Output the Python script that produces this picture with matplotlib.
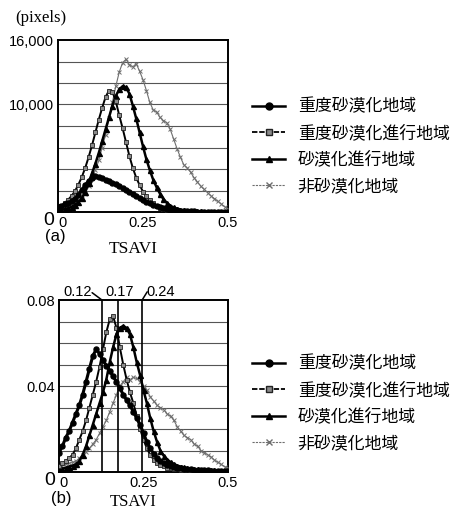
import matplotlib
matplotlib.use('Agg')
import matplotlib.pyplot as plt
from matplotlib.lines import Line2D

# ---------------- data ----------------
tsavi = [0.00, 0.01, 0.02, 0.03, 0.04, 0.05, 0.06, 0.07, 0.08, 0.09,
         0.10, 0.11, 0.12, 0.13, 0.14, 0.15, 0.16, 0.17, 0.18, 0.19,
         0.20, 0.21, 0.22, 0.23, 0.24, 0.25, 0.26, 0.27, 0.28, 0.29,
         0.30, 0.31, 0.32, 0.33, 0.34, 0.35, 0.36, 0.37, 0.38, 0.39,
         0.40, 0.41, 0.42, 0.43, 0.44, 0.45, 0.46, 0.47, 0.48, 0.49, 0.50]

labels = ['重度砂漠化地域', '重度砂漠化進行地域', '砂漠化進行地域', '非砂漠化地域']

# (a) pixel counts
a_severe = [450, 550, 700, 850, 1000, 1250, 1600, 2050, 2500, 2900,
            3200, 3330, 3300, 3170, 3020, 2870, 2720, 2560, 2400, 2220,
            2040, 1860, 1670, 1480, 1300, 1120, 950, 800, 660, 540,
            430, 340, 270, 220, 180, 150, 120, 95, 75, 60,
            50, 40, 35, 30, 25, 20, 18, 15, 12, 10, 8]
a_severe_prog = [450, 600, 850, 1150, 1500, 1950, 2550, 3250, 4100, 5100,
                 6200, 7400, 8600, 9700, 10700, 11300, 11200, 10300, 9000, 7800,
                 6500, 5200, 4100, 3200, 2500, 1900, 1450, 1100, 800, 560,
                 400, 290, 210, 160, 120, 90, 70, 55, 45, 38,
                 32, 28, 24, 20, 17, 14, 12, 10, 8, 6, 5]
a_prog = [150, 200, 260, 350, 480, 650, 900, 1300, 1900, 2700,
          3600, 4500, 5500, 6600, 7700, 8800, 9900, 10800, 11400, 11700,
          11600, 11000, 9900, 8700, 7400, 6100, 4900, 3900, 3000, 2300,
          1700, 1200, 850, 600, 420, 300, 220, 170, 130, 100,
          80, 65, 55, 45, 38, 32, 27, 22, 18, 15, 12]
a_non = [250, 350, 450, 550, 650, 750, 950, 1250, 1700, 2400,
         3200, 3900, 4800, 6000, 7200, 8700, 10200, 11700, 13000, 13900,
         14200, 13700, 13500, 13800, 13100, 12300, 11300, 10200, 9500, 9300,
         8800, 8500, 8300, 7700, 6800, 5900, 5100, 4400, 4100, 3700,
         3200, 2800, 2400, 2100, 1800, 1500, 1250, 1000, 750, 500, 300]

# (b) relative frequency
b_severe = [0.009, 0.012, 0.016, 0.019, 0.023, 0.027, 0.031, 0.036, 0.042, 0.048,
            0.054, 0.057, 0.055, 0.052, 0.0495, 0.047, 0.0445, 0.042, 0.039, 0.036,
            0.0335, 0.031, 0.028, 0.025, 0.022, 0.018, 0.014, 0.011, 0.0085, 0.0065,
            0.005, 0.004, 0.0033, 0.0028, 0.0024, 0.002, 0.0018, 0.0016, 0.0014, 0.0012,
            0.0011, 0.001, 0.0009, 0.0008, 0.0007, 0.0006, 0.0006, 0.0005, 0.0005, 0.0004, 0.0004]
b_severe_prog = [0.003, 0.004, 0.005, 0.0065, 0.008, 0.011, 0.015, 0.019, 0.024, 0.030,
                 0.036, 0.042, 0.049, 0.057, 0.065, 0.071, 0.0725, 0.067, 0.058, 0.050,
                 0.043, 0.037, 0.032, 0.026, 0.020, 0.015, 0.011, 0.008, 0.0058, 0.0043,
                 0.0033, 0.0026, 0.002, 0.0017, 0.0014, 0.0012, 0.001, 0.0009, 0.0008, 0.0007,
                 0.0006, 0.0006, 0.0005, 0.0005, 0.0004, 0.0004, 0.0003, 0.0003, 0.0003, 0.0003, 0.0002]
b_prog = [0.001, 0.0015, 0.002, 0.0025, 0.003, 0.0035, 0.005, 0.008, 0.012, 0.017,
          0.022, 0.027, 0.032, 0.037, 0.043, 0.051, 0.058, 0.064, 0.067, 0.068,
          0.067, 0.064, 0.058, 0.051, 0.045, 0.038, 0.032, 0.025, 0.019, 0.014,
          0.010, 0.0075, 0.0058, 0.0046, 0.0037, 0.003, 0.0025, 0.0021, 0.0018, 0.0015,
          0.0013, 0.0012, 0.0011, 0.001, 0.0009, 0.0008, 0.0007, 0.0006, 0.0005, 0.0005, 0.0004]
b_non = [0.003, 0.003, 0.0035, 0.004, 0.0045, 0.005, 0.0065, 0.008, 0.0095, 0.011,
         0.013, 0.015, 0.018, 0.021, 0.024, 0.028, 0.032, 0.036, 0.040, 0.042,
         0.044, 0.043, 0.044, 0.0435, 0.042, 0.040, 0.038, 0.035, 0.033, 0.031,
         0.030, 0.029, 0.027, 0.026, 0.024, 0.021, 0.019, 0.017, 0.016, 0.015,
         0.013, 0.012, 0.010, 0.009, 0.008, 0.007, 0.0055, 0.0045, 0.0035, 0.0025, 0.002]

thresholds = [0.127, 0.176, 0.246]
threshold_labels = ['0.12', '0.17', '0.24']

a_yticks = [0, 10000, 16000]
a_yticklabels = ['0', '10,000', '16,000']
b_yticks = [0, 0.04, 0.08]
b_yticklabels = ['0', '0.04', '0.08']
xticks = [0, 0.25, 0.5]
xticklabels = ['0', '0.25', '0.5']

# ---------------- styling ----------------
cjk = ['Noto Sans CJK JP', 'DejaVu Sans']
sans = ['Liberation Sans', 'DejaVu Sans']
serif = ['Liberation Serif', 'DejaVu Serif']
TICK_FS = 10.5

styles = [
    dict(color='black', lw=2.2, marker='o', ms=3.6, mfc='black', mec='black', zorder=5),
    dict(color='black', lw=1.4, marker='s', ms=3.2, mfc='#8a8a8a', mec='#222222', mew=0.6, zorder=4),
    dict(color='black', lw=1.8, marker='^', ms=3.6, mfc='black', mec='black', zorder=4),
    dict(color='#6e6e6e', lw=0.8, marker='x', ms=3.4, mew=0.7, zorder=3),
]
legend_styles = [
    dict(color='black', lw=1.8, marker='o', ms=5, mfc='black', mec='black'),
    dict(color='black', lw=1.3, marker='s', ms=4.5, mfc='#8a8a8a', mec='#222222', ls=(0, (3, 1))),
    dict(color='black', lw=1.8, marker='^', ms=5, mfc='black', mec='black'),
    dict(color='#6e6e6e', lw=0.8, marker='x', ms=5, ls=(0, (2, 1))),
]

fig = plt.figure(figsize=(4.53, 5.12), dpi=100)
ax_a = fig.add_axes([58 / 453, 1 - 212 / 512, 170 / 453, 172 / 512])
ax_b = fig.add_axes([59 / 453, 1 - 472 / 512, 169 / 453, 172 / 512])


def style_axes(ax, ymax, ystep, yticks, yticklabels):
    ax.set_xlim(0, 0.5)
    ax.set_ylim(0, ymax)
    for gy in [ystep * k for k in range(1, int(round(ymax / ystep)))]:
        ax.axhline(gy, color='#555555', lw=0.8, zorder=1)
    ax.set_xticks(xticks)
    ax.set_xticklabels(xticklabels, family=sans, fontsize=TICK_FS)
    ax.set_yticks(yticks)
    ax.set_yticklabels(yticklabels, family=sans, fontsize=TICK_FS)
    ax.tick_params(length=0, pad=3)
    for s in ax.spines.values():
        s.set_linewidth(1.4)
        s.set_color('black')
    yl = ax.get_yticklabels()[0]
    yl.set_fontsize(14)
    yl.set_va('top')
    xl = ax.get_xticklabels()
    xl[0].set_ha('left')


style_axes(ax_a, 16000, 2000, a_yticks, a_yticklabels)
style_axes(ax_b, 0.08, 0.01, b_yticks, b_yticklabels)

a_series = [a_severe, a_severe_prog, a_prog, a_non]
b_series = [b_severe, b_severe_prog, b_prog, b_non]
for i in [3, 2, 1, 0]:
    ax_a.plot(tsavi, a_series[i], **styles[i])
    ax_b.plot(tsavi, b_series[i], **styles[i])

for t in thresholds:
    ax_b.axvline(t, color='black', lw=1.2, zorder=6)

# threshold labels above panel (b)
label_y = 0.0838
ax_b.text(0.056, label_y, threshold_labels[0], ha='center', va='center',
          family=sans, fontsize=TICK_FS, clip_on=False)
ax_b.text(0.18, label_y, threshold_labels[1], ha='center', va='center',
          family=sans, fontsize=TICK_FS, clip_on=False)
ax_b.text(0.302, label_y, threshold_labels[2], ha='center', va='center',
          family=sans, fontsize=TICK_FS, clip_on=False)
# short leader strokes from the labels to the threshold lines
ax_b.annotate('', xy=(thresholds[0], 0.080), xytext=(0.098, 0.0834), annotation_clip=False,
              arrowprops=dict(arrowstyle='-', lw=1.1, color='black', shrinkA=0, shrinkB=0))
ax_b.annotate('', xy=(thresholds[2], 0.080), xytext=(0.261, 0.0838), annotation_clip=False,
              arrowprops=dict(arrowstyle='-', lw=1.1, color='black', shrinkA=0, shrinkB=0))

# axis captions
fig.text(15 / 453, 1 - 18 / 512, '(pixels)', family=serif, fontsize=12, va='center', ha='left')
fig.text(55 / 453, 1 - 237 / 512, '(a)', family=sans, fontsize=12, va='center', ha='center')
fig.text(133 / 453, 1 - 249 / 512, 'TSAVI', family=serif, fontsize=12.5, va='center', ha='center')
fig.text(61 / 453, 1 - 499 / 512, '(b)', family=sans, fontsize=12, va='center', ha='center')
fig.text(133 / 453, 1 - 502 / 512, 'TSAVI', family=serif, fontsize=12, va='center', ha='center')

handles = [Line2D([], [], **s) for s in legend_styles]
for anchor_y in [1 - 97.5 / 512, 1 - 354.5 / 512]:
    fig.legend(handles, labels, loc='upper left', bbox_to_anchor=(252 / 453, anchor_y),
               frameon=False, prop={'family': cjk, 'size': 12.2},
               handlelength=1.95, handletextpad=0.75, labelspacing=0.5,
               borderpad=0, borderaxespad=0)

fig.savefig('out.png', dpi=100)
